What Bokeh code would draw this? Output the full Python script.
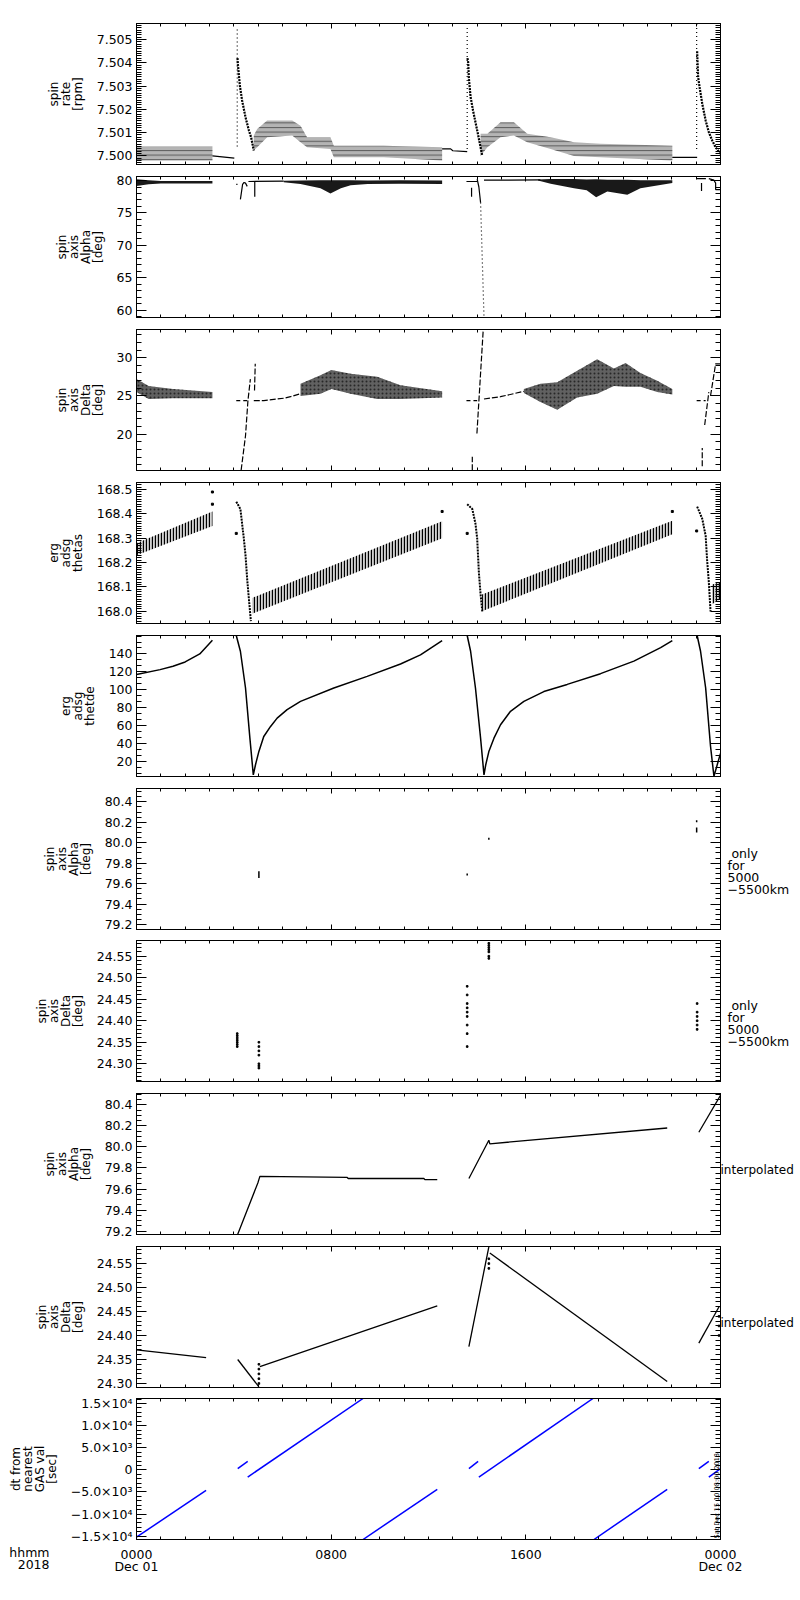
import numpy as np
from bokeh.plotting import figure
from bokeh.models import FixedTicker, LinearAxis, Range1d, PrintfTickFormatter, Label
from bokeh.layouts import column
from bokeh.embed import file_html
from bokeh.resources import INLINE

FONT = "DejaVu Sans"
TICK_FS = "12.5px"
TITLE_FS = "12px"
FIG_W = 800
LEFT_B, RIGHT_B = 136, 80
FRAME_H = 141
frame_tops = [23, 176, 329, 482, 635, 788, 940, 1093, 1246, 1398]

# ---------------- x axis (hours of 2018-12-01) ----------------
hour_major = [0, 8, 16, 24]
hour_minor = list(range(0, 25))
hour_labels = {0: "0000\nDec 01", 8: "0800", 16: "1600", 24: "0000\nDec 02"}
axis_name_text = "\n\nhhmm\n2018"

# ---------------- panel 1: spin rate [rpm] ----------------
rate_ticks = [7.500, 7.501, 7.502, 7.503, 7.504, 7.505]
rate_band_t = [[0.0, 3.12],
               [4.82, 4.96, 5.37, 6.40, 6.74, 7.01, 7.97, 8.11, 10.16, 12.56],
               [14.14, 14.42, 14.96, 15.51, 16.06, 17.02, 17.98, 19.07, 22.02]]
rate_band_lo = [[7.4998, 7.4998],
                [7.50023, 7.50037, 7.50080, 7.50088, 7.50059, 7.50037, 7.50030, 7.49994, 7.49994, 7.49980],
                [7.50000, 7.50037, 7.50080, 7.50088, 7.50059, 7.50030, 7.50000, 7.49994, 7.49980]]
rate_band_hi = [[7.5004, 7.5004],
                [7.50088, 7.50116, 7.50152, 7.50152, 7.50130, 7.50080, 7.50080, 7.50044, 7.50044, 7.50037],
                [7.50095, 7.50095, 7.50145, 7.50145, 7.50095, 7.50080, 7.50059, 7.50052, 7.50044]]
rate_line_t = [[3.12, 4.02], [12.56, 12.91, 13.0, 13.59], [22.02, 23.04]]
rate_line_v = [[7.5000, 7.4999], [7.5003, 7.5003, 7.50022, 7.50018], [7.49994, 7.49994]]
rate_spike_t = [4.14, 13.59, 23.02]
rate_spike_lo = [7.5004, 7.5003, 7.5003]
rate_spike_hi = [7.50552, 7.5055, 7.5057]
rate_decay_t = [[4.15, 4.17, 4.25, 4.34, 4.48, 4.62, 4.71, 4.82],
                [13.60, 13.63, 13.66, 13.73, 13.83, 13.93, 14.03, 14.14, 14.21],
                [23.04, 23.08, 23.14, 23.25, 23.39, 23.52, 23.66, 23.80, 24.0]]
rate_decay_v = [[7.5042, 7.5039, 7.5030, 7.50238, 7.50166, 7.50109, 7.5008, 7.50023],
                [7.5042, 7.50403, 7.50332, 7.50253, 7.50195, 7.50145, 7.50095, 7.50037, 7.5000],
                [7.5045, 7.50339, 7.50296, 7.50224, 7.50152, 7.50102, 7.50066, 7.50037, 7.50009]]

# ---------------- panel 2: spin axis Alpha ----------------
alpha_ticks = [60, 65, 70, 75, 80]
alpha_band_t = [[0.0, 0.5, 1.0, 3.12],
                [6.05, 6.74, 7.56, 7.97, 8.4, 8.8, 9.5, 10.85, 12.56],
                [16.5, 17.02, 17.98, 18.5, 18.89, 19.35, 20.17, 20.71, 22.02]]
alpha_band_lo = [[79.17, 79.43, 79.54, 79.54],
                 [79.75, 79.45, 78.8, 78.0, 78.8, 79.27, 79.45, 79.5, 79.45],
                 [80.0, 79.5, 78.8, 78.5, 77.4, 78.3, 77.8, 78.8, 79.6]]
alpha_band_hi = [[80.2, 80.05, 79.94, 79.94],
                 [79.95, 80.0, 80.05, 80.05, 80.05, 80.05, 80.0, 80.05, 80.0],
                 [80.15, 80.25, 80.25, 80.15, 80.2, 80.1, 80.1, 80.05, 80.05]]
alpha_line_t = [[4.10, 4.15], [4.27, 4.36, 4.42, 4.48, 4.55], [4.86, 4.86], [4.6, 6.05],
                [13.56, 14.0], [13.77, 13.77], [14.0, 14.07, 14.14], [14.28, 16.6],
                [23.02, 23.4], [23.22, 23.22], [23.52, 23.73, 23.80, 23.80, 24.0]]
alpha_line_v = [[79.4, 79.4], [77.1, 79.4, 79.7, 79.6, 79.1], [79.8, 77.5], [79.85, 79.9],
                [79.85, 79.85], [78.9, 77.5], [80.2, 79.0, 76.6], [80.05, 80.1],
                [80.3, 80.3], [79.6, 78.4], [80.3, 80.05, 79.6, 78.6, 78.6]]
alpha_drop_t = [14.14, 14.28]
alpha_drop_v = [76.6, 59.0]

# ---------------- panel 3: spin axis Delta ----------------
delta_ticks = [20, 25, 30]
delta_band_t = [[0.0, 0.5, 1.5, 3.12],
                [6.74, 7.56, 8.01, 8.8, 9.89, 10.85, 12.56],
                [15.92, 16.60, 17.29, 18.11, 18.93, 19.62, 20.10, 20.71, 21.40, 22.02]]
delta_band_lo = [[25.5, 24.6, 24.7, 24.7],
                 [25.0, 25.3, 25.9, 25.3, 24.6, 24.6, 24.8],
                 [25.4, 24.2, 23.2, 24.8, 25.3, 26.3, 26.2, 26.2, 25.5, 25.2]]
delta_band_hi = [[27.2, 26.3, 25.9, 25.5],
                 [26.6, 27.7, 28.4, 27.9, 27.5, 26.4, 25.6],
                 [25.9, 26.6, 26.8, 28.3, 29.8, 28.6, 29.3, 28.0, 27.0, 25.9]]
delta_line_t = [[4.30, 4.48, 4.58, 4.68], [4.85, 4.88], [4.82, 5.23, 6.05, 6.33, 6.74],
                [13.80, 13.80], [13.99, 14.25], [14.28, 14.96, 15.92],
                [23.25, 23.25], [23.35, 23.52], [23.59, 23.80, 24.0]]
delta_line_v = [[15.3, 19.8, 24.4, 27.2], [25.7, 29.2], [24.4, 24.4, 24.7, 24.9, 25.3],
                [15.3, 17.05], [20.1, 33.7], [24.6, 24.9, 25.6],
                [15.8, 18.2], [21.2, 25.5], [25.0, 29.2, 29.2]]
delta_dash_t = [[4.10, 4.55], [13.56, 14.0], [23.02, 23.39]]
delta_dash_v = [24.4, 24.4, 24.4]

# ---------------- panel 4: erg adsg thetas ----------------
thetas_ticks = [168.0, 168.1, 168.2, 168.3, 168.4, 168.5]
thetas_band_t = [[0.0, 3.12], [4.75, 12.56], [14.2, 22.02], [23.66, 24.0]]
thetas_band_lo = [[168.23, 168.35], [167.99, 168.30], [168.0, 168.317], [168.03, 168.05]]
thetas_band_hi = [[168.28, 168.41], [168.055, 168.37], [168.069, 168.372], [168.11, 168.12]]
thetas_fall_t = [[4.10, 4.27, 4.34, 4.41, 4.48, 4.55, 4.62, 4.70],
                 [13.59, 13.80, 13.93, 14.0, 14.07, 14.14, 14.21],
                 [23.04, 23.25, 23.39, 23.45, 23.52, 23.59]]
thetas_fall_v = [[168.45, 168.42, 168.36, 168.30, 168.23, 168.13, 168.05, 167.96],
                 [168.44, 168.42, 168.36, 168.30, 168.16, 168.07, 168.0],
                 [168.43, 168.38, 168.31, 168.21, 168.12, 168.0]]
thetas_out_t = [3.12, 3.12, 4.10, 12.56, 13.59, 22.02, 23.02]
thetas_out_v = [168.49, 168.44, 168.32, 168.41, 168.32, 168.41, 168.33]

# ---------------- panel 5: erg adsg thetde ----------------
thetade_ticks = [20, 40, 60, 80, 100, 120, 140]
thetade_t = [[0.0, 0.97, 1.5, 2.0, 2.6, 3.12],
             [4.10, 4.27, 4.48, 4.66, 4.80, 4.89, 5.03, 5.23, 5.51, 5.78, 6.19, 6.74, 8.11, 9.48, 10.85, 11.67, 12.56],
             [13.59, 13.73, 13.93, 14.14, 14.28, 14.35, 14.48, 14.69, 14.96, 15.37, 15.92, 16.74, 17.70, 19.07, 20.44, 21.54, 22.02],
             [23.04, 23.18, 23.39, 23.59, 23.73, 24.0]]
thetade_v = [[117.0, 122.5, 126.2, 131.1, 140.0, 155.3],
             [160.6, 143, 102, 46, 5, 16.3, 31.2, 47.9, 59.1, 68.4, 77.8, 87.1, 102, 115, 128.8, 139, 155],
             [160.6, 143, 102, 46, 5, 16, 31, 46, 61, 76, 87, 98, 106, 118, 132, 147, 155],
             [160.6, 143, 102, 37, 3.5, 29]]

# ---------------- panel 6: Alpha only for 5000-5500 km ----------------
alpha_km_ticks = [79.2, 79.4, 79.6, 79.8, 80.0, 80.2, 80.4]
only_alpha_t = [5.03, 13.59, 14.48, 23.02, 23.02]
only_alpha_lo = [79.655, 79.68, 80.03, 80.10, 80.20]
only_alpha_hi = [79.72, 79.70, 80.05, 80.15, 80.22]
only_note = "\n\n\u00a0only\nfor\n5000\n\u22125500km"

# ---------------- panel 7: Delta only for 5000-5500 km ----------------
delta_km_ticks = [24.30, 24.35, 24.40, 24.45, 24.50, 24.55]
only_delta_t = [4.14, 5.03, 13.59, 14.48, 23.04]
only_delta_v = [[24.34, 24.345, 24.35, 24.355, 24.36, 24.365, 24.37],
                [24.29, 24.295, 24.30, 24.32, 24.33, 24.34, 24.35],
                [24.34, 24.37, 24.39, 24.41, 24.42, 24.43, 24.44, 24.46, 24.48],
                [24.545, 24.55, 24.56, 24.565, 24.57, 24.575, 24.58],
                [24.38, 24.39, 24.40, 24.41, 24.42, 24.44]]

# ---------------- panel 8: Alpha interpolated ----------------
interp_alpha_t = [[4.16, 4.99, 5.07, 8.66, 8.70, 11.81, 11.85, 12.36],
                  [13.66, 14.48, 14.52, 21.81],
                  [23.11, 24.0]]
interp_alpha_v = [[79.17, 79.66, 79.72, 79.71, 79.70, 79.70, 79.69, 79.69],
                  [79.70, 80.064, 80.03, 80.18],
                  [80.14, 80.49]]
interp_note = "\ninterpolated"

# ---------------- panel 9: Delta interpolated ----------------
interp_delta_t = [[0.0, 2.86], [4.16, 5.03], [5.07, 12.36], [13.66, 14.48], [14.52, 21.81], [23.11, 23.94]]
interp_delta_v = [[24.37, 24.354], [24.35, 24.293], [24.335, 24.462], [24.377, 24.585], [24.572, 24.304], [24.384, 24.46]]
interp_delta_dot_t = [5.03, 14.48, 23.94]
interp_delta_dot_v = [[24.30, 24.31, 24.32, 24.33, 24.34], [24.54, 24.55, 24.56], [24.40, 24.42, 24.44]]

# ---------------- panel 10: dt from nearest GAS val [sec] ----------------
dt_ticks = [-15000, -10000, -5000, 0, 5000, 10000, 15000]
dt_labels = ["\u22121.5\u00d710\u2074", "\u22121.0\u00d710\u2074", "\u22125.0\u00d710\u00b3", "0",
             "5.0\u00d710\u00b3", "1.0\u00d710\u2074", "1.5\u00d710\u2074"]
dt_t = [[0.0, 2.86], [4.16, 4.57], [4.57, 9.31], [9.31, 12.36], [13.66, 14.04],
        [14.07, 18.76], [18.80, 21.81], [23.11, 23.52], [23.52, 24.0]]
dt_v = [[-15222, -4643], [270, 1925], [-1630, 16133], [-15750, -4420], [270, 1925],
        [-1630, 16133], [-15750, -4420], [270, 1925], [-1630, 270]]
stamp_text = "Sat Dec 15 10:08:00 2018"


def hide_labels(ax):
    ax.major_label_text_font_size = "1px"
    ax.major_label_text_color = None
    ax.major_label_standoff = 0


def make_panel(idx, y0, y1, yticks, yminor, title, fmt=None, overrides=None,
               note=None, note_standoff=7, note_fs=TICK_FS):
    last = idx == len(frame_tops) - 1
    top_b = frame_tops[0] if idx == 0 else 6
    bot_b = 6 if last else frame_tops[idx + 1] - frame_tops[idx] - FRAME_H - 6
    p = figure(width=FIG_W, height=top_b + FRAME_H + bot_b,
               x_range=Range1d(0, 24), y_range=Range1d(y0, y1),
               x_axis_location=None, y_axis_location=None,
               output_backend="svg", toolbar_location=None,
               min_border_left=LEFT_B, min_border_right=RIGHT_B,
               min_border_top=top_b, min_border_bottom=bot_b,
               outline_line_color="black", outline_line_width=1,
               background_fill_color="white", border_fill_color="white")
    p.grid.visible = False
    yt = FixedTicker(ticks=yticks, minor_ticks=yminor)
    xt = FixedTicker(ticks=hour_major, minor_ticks=hour_minor)
    for loc in ("left", "right"):
        ax = LinearAxis(ticker=yt, major_tick_in=10, major_tick_out=0,
                        minor_tick_in=5, minor_tick_out=0,
                        axis_line_color="black", major_tick_line_color="black",
                        minor_tick_line_color="black")
        if loc == "left":
            ax.axis_label = title
            ax.axis_label_text_font = FONT
            ax.axis_label_text_font_size = TITLE_FS
            ax.axis_label_text_font_style = "normal"
            ax.axis_label_text_line_height = 0.84
            ax.axis_label_text_color = "black"
            ax.axis_label_standoff = 9
            ax.major_label_text_font = FONT
            ax.major_label_text_font_size = TICK_FS
            ax.major_label_text_color = "black"
            ax.major_label_standoff = 4
            if fmt:
                ax.formatter = PrintfTickFormatter(format=fmt)
            if overrides:
                ax.major_label_overrides = overrides
        else:
            hide_labels(ax)
            if note:
                ax.axis_label = note
                ax.axis_label_orientation = "horizontal"
                ax.axis_label_text_font = FONT
                ax.axis_label_text_font_size = note_fs
                ax.axis_label_text_font_style = "normal"
                ax.axis_label_text_line_height = 0.8
                ax.axis_label_text_color = "black"
                ax.axis_label_standoff = note_standoff
        p.add_layout(ax, loc)
    for loc in ("below", "above"):
        ax = LinearAxis(ticker=xt, major_tick_in=5, major_tick_out=0,
                        minor_tick_in=3, minor_tick_out=0,
                        axis_line_color="black", major_tick_line_color="black",
                        minor_tick_line_color="black")
        hide_labels(ax)
        p.add_layout(ax, loc)
    return p


def time_label_strip():
    # thin strip under the last panel carrying the time-axis labels (same hour scale)
    s = figure(width=FIG_W, height=36,
               x_range=Range1d(0, 24), y_range=Range1d(0, 1),
               x_axis_location=None, y_axis_location=None,
               output_backend="svg", toolbar_location=None,
               min_border_left=LEFT_B, min_border_right=RIGHT_B,
               min_border_top=0, min_border_bottom=35,
               outline_line_color=None, background_fill_color="white", border_fill_color="white")
    s.grid.visible = False
    ax = LinearAxis(ticker=FixedTicker(ticks=hour_major, minor_ticks=[]),
                    major_tick_in=0, major_tick_out=0, minor_tick_in=0, minor_tick_out=0,
                    axis_line_color=None, major_tick_line_color=None, minor_tick_line_color=None,
                    major_label_overrides=hour_labels,
                    major_label_text_font=FONT, major_label_text_font_size=TICK_FS,
                    major_label_text_color="black", major_label_text_line_height=0.82,
                    major_label_standoff=0)
    s.add_layout(ax, "below")
    name_ax = LinearAxis(ticker=FixedTicker(ticks=[], minor_ticks=[]),
                         major_tick_in=0, major_tick_out=0, minor_tick_in=0, minor_tick_out=0,
                         axis_line_color=None, major_tick_line_color=None, minor_tick_line_color=None,
                         axis_label=axis_name_text, axis_label_orientation="horizontal",
                         axis_label_text_font=FONT, axis_label_text_font_size=TICK_FS,
                         axis_label_text_font_style="normal", axis_label_text_line_height=0.82,
                         axis_label_text_color="black", axis_label_standoff=87)
    hide_labels(name_ax)
    s.add_layout(name_ax, "left")
    return s


def minor(a, b, step):
    n = int(round((b - a) / step))
    return [round(a + i * step, 6) for i in range(n + 1)]


panels = []

# 1 spin rate
p = make_panel(0, 7.49963, 7.50569, rate_ticks, minor(7.4996, 7.5057, 0.0001), "spin\nrate\n[rpm]", fmt="%.3f")
for t, lo, hi in zip(rate_band_t, rate_band_lo, rate_band_hi):
    p.varea(x=t, y1=lo, y2=hi, fill_color="#b4b4b4",
            hatch_pattern="horizontal_line", hatch_color="black", hatch_scale=4.6,
            hatch_weight=1, hatch_alpha=0.5)
for t, v in zip(rate_line_t, rate_line_v):
    p.line(t, v, line_color="black", line_width=1.2)
p.segment(x0=rate_spike_t, y0=rate_spike_lo, x1=rate_spike_t, y1=rate_spike_hi,
          line_color="black", line_width=1.2, line_dash="1 3")
for t, v in zip(rate_decay_t, rate_decay_v):
    p.line(t, v, line_color="black", line_width=2.2, line_dash="2 1")
panels.append(p)

# 2 spin axis alpha
p = make_panel(1, 58.87, 80.62, alpha_ticks, list(range(59, 81)), "spin\naxis\nAlpha\n[deg]")
for t, lo, hi in zip(alpha_band_t, alpha_band_lo, alpha_band_hi):
    p.varea(x=t, y1=lo, y2=hi, fill_color="black", fill_alpha=0.9)
for t, v in zip(alpha_line_t, alpha_line_v):
    p.line(t, v, line_color="black", line_width=1.2)
p.line(alpha_drop_t, alpha_drop_v, line_color="black", line_width=1.2, line_dash="1 3")
panels.append(p)

# 3 spin axis delta
p = make_panel(2, 15.26, 33.68, delta_ticks, list(range(16, 34)), "spin\naxis\nDelta\n[deg]")
for t, lo, hi in zip(delta_band_t, delta_band_lo, delta_band_hi):
    p.varea(x=t, y1=lo, y2=hi, fill_color="black", fill_alpha=0.62,
            hatch_pattern="dot", hatch_color="black", hatch_scale=4, hatch_alpha=0.6)
for t, v in zip(delta_line_t, delta_line_v):
    p.line(t, v, line_color="black", line_width=1.2, line_dash="6 2")
for t, v in zip(delta_dash_t, delta_dash_v):
    p.line(t, [v, v], line_color="black", line_width=1.2, line_dash="4 3")
panels.append(p)

# 4 erg adsg thetas
p = make_panel(3, 167.950, 168.529, thetas_ticks, minor(167.95, 168.52, 0.01), "erg\nadsg\nthetas", fmt="%.1f")
for t, lo, hi in zip(thetas_band_t, thetas_band_lo, thetas_band_hi):
    p.varea(x=t, y1=lo, y2=hi, fill_color="black", fill_alpha=0.18,
            hatch_pattern="vertical_line", hatch_color="black", hatch_scale=3,
            hatch_weight=1.3)
for t, v in zip(thetas_fall_t, thetas_fall_v):
    p.line(t, v, line_color="black", line_width=2, line_dash="2 1")
p.scatter(thetas_out_t, thetas_out_v, marker="square", size=2, color="black")
panels.append(p)

# 5 erg adsg thetde
p = make_panel(4, 3.2, 160.6, thetade_ticks, minor(6.6667, 160.0, 20 / 3), "erg\nadsg\nthetde")
for t, v in zip(thetade_t, thetade_v):
    p.line(t, v, line_color="black", line_width=1.5)
panels.append(p)

# 6 alpha only for 5000-5500km
p = make_panel(5, 79.151, 80.531, alpha_km_ticks, minor(79.15, 80.5, 0.05), "spin\naxis\nAlpha\n[deg]",
               fmt="%.1f", note=only_note)
p.segment(x0=only_alpha_t, y0=only_alpha_lo, x1=only_alpha_t, y1=only_alpha_hi,
          line_color="black", line_width=1.5)
panels.append(p)

# 7 delta only for 5000-5500km
p = make_panel(6, 24.2588, 24.5865, delta_km_ticks, minor(24.26, 24.58, 0.01), "spin\naxis\nDelta\n[deg]",
               fmt="%.2f", note=only_note)
xs, ys = [], []
for t, vs in zip(only_delta_t, only_delta_v):
    xs += [t] * len(vs)
    ys += vs
p.scatter(xs, ys, marker="square", size=1.6, color="black")
panels.append(p)

# 8 alpha interpolated
p = make_panel(7, 79.168, 80.508, alpha_km_ticks, minor(79.2, 80.5, 0.05), "spin\naxis\nAlpha\n[deg]",
               fmt="%.1f", note=interp_note, note_standoff=0, note_fs="12px")
for t, v in zip(interp_alpha_t, interp_alpha_v):
    p.line(t, v, line_color="black", line_width=1.3)
panels.append(p)

# 9 delta interpolated
p = make_panel(8, 24.2916, 24.5856, delta_km_ticks, minor(24.30, 24.58, 0.01), "spin\naxis\nDelta\n[deg]",
               fmt="%.2f", note=interp_note, note_standoff=0, note_fs="12px")
for t, v in zip(interp_delta_t, interp_delta_v):
    p.line(t, v, line_color="black", line_width=1.3)
xs, ys = [], []
for t, vs in zip(interp_delta_dot_t, interp_delta_dot_v):
    xs += [t] * len(vs)
    ys += vs
p.scatter(xs, ys, marker="square", size=1.6, color="black")
panels.append(p)

# 10 dt from nearest GAS val
p = make_panel(9, -15750, 16133, dt_ticks, list(range(-15000, 16001, 1000)),
               "dt from\nnearest\nGAS val\n[sec]", overrides=dict(zip(dt_ticks, dt_labels)))
for t, v in zip(dt_t, dt_v):
    p.line(t, v, line_color="blue", line_width=1.5)
p.add_layout(Label(x=24, y=-15750, x_offset=-4, y_offset=1, angle=np.pi / 2, text=stamp_text,
                   text_font=FONT, text_font_size="6.5px", text_align="left",
                   text_baseline="middle", text_color="black"))
panels.append(p)

panels.append(time_label_strip())

layout = column(*panels, spacing=0)
open("out.html", "w").write(file_html(layout, INLINE))
